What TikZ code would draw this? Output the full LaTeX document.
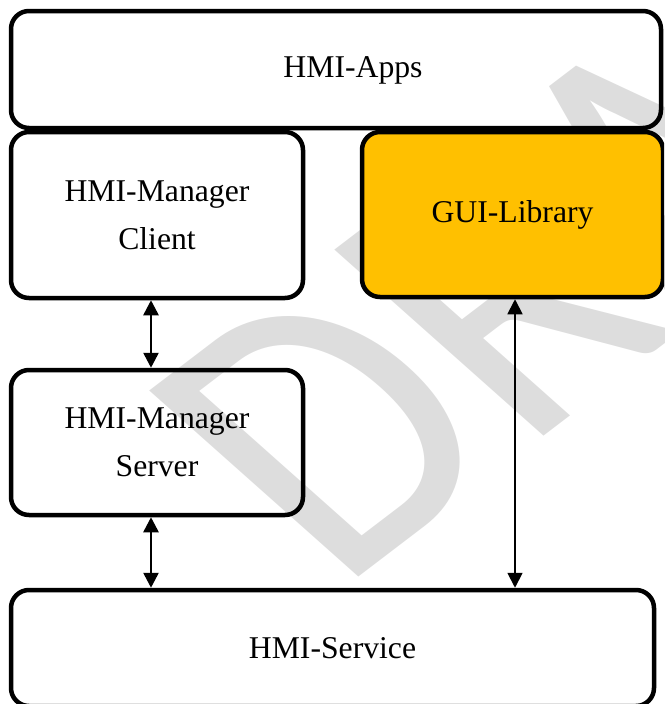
\documentclass[tikz,border=0pt]{standalone}
\usepackage{fontspec}
\setmainfont{Liberation Serif}
\newfontfamily\draftfont{Carlito}
\usetikzlibrary{arrows.meta}
\definecolor{guiyellow}{HTML}{FFC000}
\definecolor{draftgray}{HTML}{DDDDDD}
\tikzset{
  layers/.style={
    x=1pt, y=-1pt,
    every node/.style={inner sep=0pt, font=\fontsize{31.7}{48}\selectfont},
    box/.style={
        draw=black,
        line width=4.5pt,
        rounded corners=18pt,
        align=center,
    },
    lib/.style={
        box,
        fill=guiyellow,
    },
    link/.style={
        line width=2.6pt,
        {Triangle[width=15pt,length=15pt]}-{Triangle[width=15pt,length=15pt]},
    },
    thin link/.style={
        link,
        line width=1.8pt,
    },
    watermark/.style={
        text=draftgray,
        font=\draftfont\fontsize{100}{100}\selectfont,
        anchor=base west,
        transform shape,
    }
  }
}

\begin{document}
\begin{tikzpicture}[layers]
    \clip (0,0) rectangle (664,704);
    % watermark behind the layers
    \begin{scope}[shift={(363,574)}, cm={2.99,2.28,-3.26,2.90,(0,0)}]
        \node[watermark] (draft) at (-8.3,0) {DRAFT};
    \end{scope}

    \node[box, minimum width=650pt, minimum height=117pt] (apps) at (336,69.5) {};
    \node (appslabel) at (353,70) {HMI-Apps};
    \node[box, minimum width=292pt, minimum height=166pt] (client) at (157,215)
        {HMI-Manager\\Client};
    \node[lib, minimum width=301pt, minimum height=165pt] (gui) at (512.5,214.5)
        {GUI-Library};
    \node[box, minimum width=292pt, minimum height=145pt] (server) at (157,442.5)
        {HMI-Manager\\Server};
    \node[box, minimum width=643pt, minimum height=116pt] (service) at (332.5,648)
        {HMI-Service};

    \draw[link] ([xshift=-6pt]client.south) -- ([xshift=-6pt]server.north);
    \draw[link] ([xshift=-6pt]server.south) -- ([xshift=-6pt]server.south |- service.north);
    \draw[thin link] ([xshift=2.5pt]gui.south) -- ([xshift=2.5pt]gui.south |- service.north);
\end{tikzpicture}
\end{document}
